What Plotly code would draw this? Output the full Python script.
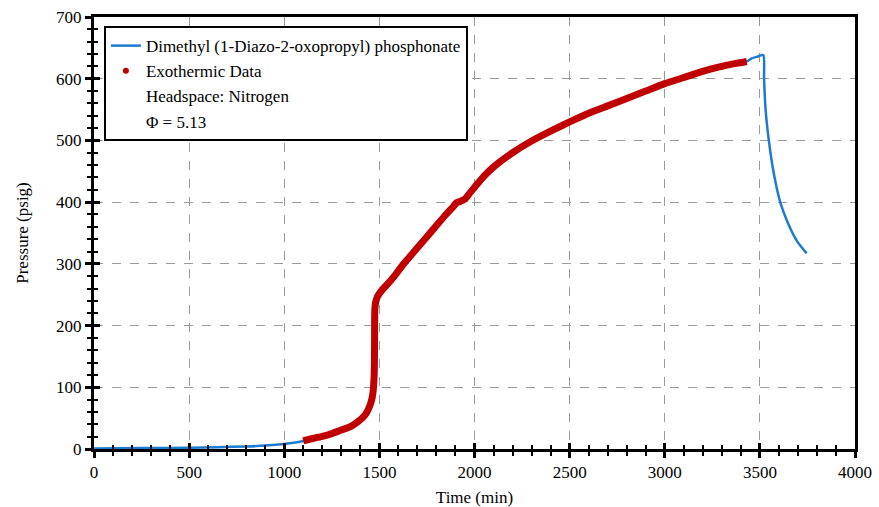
import plotly.graph_objects as go

# Full pressure trace (min, psig)
time_min = [0, 250, 500, 650, 800, 900, 1000, 1050, 1100, 1150, 1205, 1250, 1293, 1330,
            1363, 1390, 1416, 1435, 1451, 1462, 1468, 1472, 1474, 1475, 1476, 1480, 1490,
            1510, 1530, 1560, 1591, 1620, 1650, 1700, 1750, 1800, 1850, 1889, 1906, 1924,
            1950, 1976, 2003, 2050, 2100, 2200, 2300, 2400, 2500, 2600, 2700, 2800, 2900,
            3000, 3080, 3150, 3200, 3300, 3360, 3431, 3457, 3490, 3518,
            3522, 3530, 3547, 3570, 3605, 3645, 3697, 3746]
pressure_psig = [1, 1.5, 2, 3, 4, 5.5, 8, 10, 13, 17, 21, 25, 30, 34,
                 39, 45, 52, 60, 71, 83, 96, 115, 139, 193, 225, 237, 247,
                 256, 263, 273, 285, 297, 308, 326, 344, 362, 380, 393, 399, 401,
                 405, 415, 425, 442, 457, 480, 499, 515, 530, 544, 556, 568, 580,
                 592, 600, 607, 612, 620, 624, 628, 633, 636, 638.5,
                 600, 550, 500, 452, 402, 368, 336, 317]

exo_start, exo_end = 1100, 3431
exo_t = [t for t in time_min if exo_start <= t <= exo_end]
exo_p = [p for t, p in zip(time_min, pressure_psig) if exo_start <= t <= exo_end]

series_name = "Dimethyl (1-Diazo-2-oxopropyl) phosphonate"
exo_name = "Exothermic Data"
note1 = "Headspace: Nitrogen"
note2 = "Φ = 5.13"

BLUE = "#1C7BD0"
RED = "#C00000"
FONT = "Liberation Serif"

fig = go.Figure()
fig.add_trace(go.Scatter(x=time_min, y=pressure_psig, mode="lines",
                         line=dict(color=BLUE, width=2.5, shape="spline", smoothing=0.6),
                         name=series_name))
fig.add_trace(go.Scatter(x=exo_t, y=exo_p, mode="lines",
                         line=dict(color=RED, width=7, shape="spline", smoothing=0.6),
                         showlegend=False, name=exo_name))
fig.add_trace(go.Scatter(x=[None], y=[None], mode="markers",
                         marker=dict(color=RED, size=6), name=exo_name))
for nm in (note1, note2):
    fig.add_trace(go.Scatter(x=[None], y=[None], mode="markers",
                             marker=dict(color="rgba(0,0,0,0)", size=1), name=nm))

axis_common = dict(
    showline=True, linecolor="black", linewidth=3, mirror=True,
    ticks="outside", ticklen=6, tickwidth=3, tickcolor="black",
    showgrid=True, gridcolor="#9a9a9a", griddash="dash", gridwidth=1,
    zeroline=False, tickfont=dict(family=FONT, size=17, color="black"),
    automargin=False,
)

fig.update_xaxes(range=[0, 4000], dtick=500, tick0=0,
                 minor=dict(dtick=100, ticks="outside", ticklen=4, tickwidth=2,
                            tickcolor="black", showgrid=False),
                 title=dict(text="Time (min)", font=dict(family=FONT, size=17, color="black"),
                            standoff=12),
                 **axis_common)
fig.update_yaxes(range=[0, 700], dtick=100, tick0=0,
                 minor=dict(dtick=20, ticks="outside", ticklen=4, tickwidth=2,
                            tickcolor="black", showgrid=False),
                 title=dict(text="Pressure (psig)", font=dict(family=FONT, size=17, color="black"),
                            standoff=24),
                 **axis_common)

# inside halves of the crossing ticks
fig.update_layout(
    xaxis2=dict(overlaying="x", matches="x", range=[0, 4000], dtick=500, tick0=0,
                ticks="inside", ticklen=6, tickwidth=3, tickcolor="black",
                minor=dict(dtick=100, ticks="inside", ticklen=4, tickwidth=2, tickcolor="black"),
                showticklabels=False, showgrid=False, showline=False, zeroline=False,
                side="bottom", automargin=False),
    yaxis2=dict(overlaying="y", matches="y", range=[0, 700], dtick=100, tick0=0,
                ticks="inside", ticklen=6, tickwidth=3, tickcolor="black",
                minor=dict(dtick=20, ticks="inside", ticklen=4, tickwidth=2, tickcolor="black"),
                showticklabels=False, showgrid=False, showline=False, zeroline=False,
                side="left", automargin=False),
)
fig.add_trace(go.Scatter(x=[None], y=[None], xaxis="x2", yaxis="y2", showlegend=False,
                         hoverinfo="skip"))

fig.update_layout(
    width=879, height=507,
    margin=dict(l=94, r=24, t=17, b=58),
    paper_bgcolor="white", plot_bgcolor="white",
    font=dict(family=FONT, size=17, color="black"),
    showlegend=True,
    legend=dict(x=0.013, y=0.979, xanchor="left", yanchor="top",
                bgcolor="white", bordercolor="black", borderwidth=2,
                font=dict(family=FONT, size=17, color="black"),
                itemwidth=30, tracegroupgap=0),
)

fig.write_html("out.html")
